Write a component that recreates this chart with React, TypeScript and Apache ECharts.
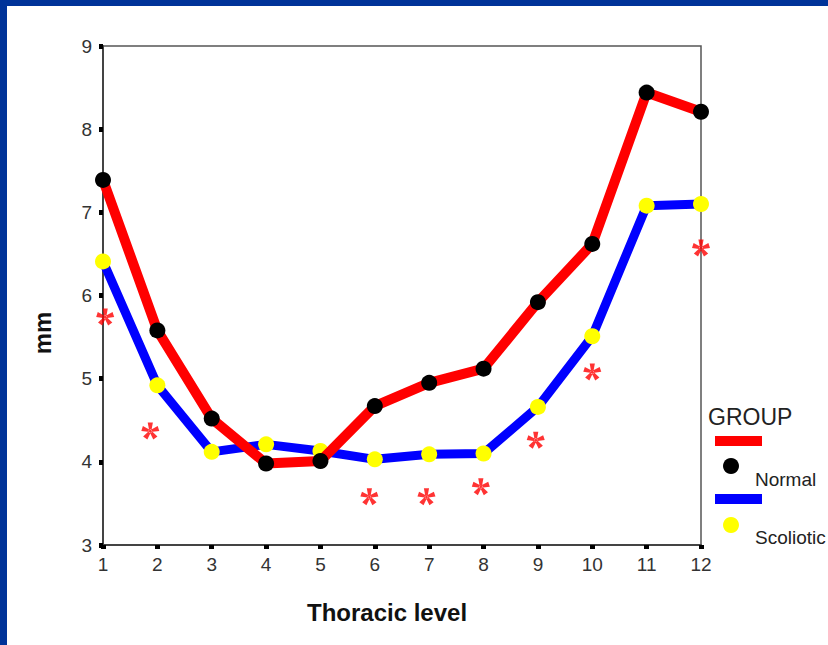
import React, { useEffect, useRef } from "react";
import * as echarts from "echarts";

const levels = [1, 2, 3, 4, 5, 6, 7, 8, 9, 10, 11, 12];
const normalValues = [7.39, 5.58, 4.52, 3.98, 4.01, 4.67, 4.95, 5.12, 5.92, 6.62, 8.44, 8.21];
const scolioticValues = [6.41, 4.92, 4.12, 4.21, 4.13, 4.03, 4.09, 4.1, 4.66, 5.51, 7.08, 7.1];
const starLevels = [1.04, 1.87, 5.9, 6.95, 7.95, 8.96, 10, 12];
const starValues = [5.74, 4.37, 3.58, 3.58, 3.7, 4.26, 5.08, 6.57];
const yTicks = [3, 4, 5, 6, 7, 8, 9];

function asteriskPath(): string {
  const L = 10, w0 = 1.2, w1 = 3.0, c = 12;
  const f = (v: number) => (v + c).toFixed(3);
  let d = "";
  for (let k = 0; k < 5; k++) {
    const a = (k * 72 * Math.PI) / 180;
    const dx = Math.sin(a), dy = -Math.cos(a);
    const nx = Math.cos(a), ny = Math.sin(a);
    const pts = [
      [w0 * nx, w0 * ny],
      [L * dx + w1 * nx, L * dy + w1 * ny],
      [L * dx - w1 * nx, L * dy - w1 * ny],
      [-w0 * nx, -w0 * ny],
    ];
    d += "M" + pts.map((p) => f(p[0]) + " " + f(p[1])).join(" L") + " Z ";
  }
  const r = 2.4;
  const cp: string[] = [];
  for (let k = 0; k < 5; k++) {
    const a = ((k * 72 + 36) * Math.PI) / 180;
    cp.push(f(r * Math.sin(a)) + " " + f(-r * Math.cos(a)));
  }
  d += "M" + cp.join(" L") + " Z";
  return d;
}

export default function App() {
  const ref = useRef<HTMLDivElement>(null);
  useEffect(() => {
    if (!ref.current) return;
    const chart = echarts.init(ref.current, null, { renderer: "svg" });
    const font = "'Liberation Sans', Arial, sans-serif";
    const normalData = levels.map((l, i) => [l, normalValues[i]]);
    const scolioticData = levels.map((l, i) => [l, scolioticValues[i]]);
    const starData = starLevels.map((l, i) => [l, starValues[i]]);
    chart.setOption({
      animation: false,
      backgroundColor: "#ffffff",
      grid: {
        left: 103,
        top: 46,
        right: 127,
        bottom: 100,
        show: true,
        borderColor: "#555",
        borderWidth: 1.5,
        backgroundColor: "transparent",
      },
      xAxis: {
        type: "value",
        min: 1,
        max: 12,
        interval: 1,
        splitLine: { show: false },
        axisLine: { show: true, onZero: false, lineStyle: { color: "#444", width: 2 } },
        axisTick: { show: true, length: 4, lineStyle: { color: "#000", width: 5 } },
        axisLabel: { margin: 10, color: "#333", fontSize: 19, fontFamily: font },
      },
      yAxis: {
        type: "value",
        min: yTicks[0],
        max: yTicks[yTicks.length - 1],
        interval: 1,
        splitLine: { show: false },
        axisLine: { show: true, onZero: false, lineStyle: { color: "#444", width: 2 } },
        axisTick: { show: true, length: 4, lineStyle: { color: "#000", width: 5 } },
        axisLabel: { margin: 11, color: "#333", fontSize: 19, fontFamily: font },
      },
      series: [
        {
          name: "Scoliotic",
          type: "line",
          data: scolioticData,
          clip: false,
          lineStyle: { color: "#0000ff", width: 9 },
          symbol: "circle",
          symbolSize: 16,
          showAllSymbol: true,
          itemStyle: { color: "#ffff00", borderWidth: 0 },
          z: 3,
        },
        {
          name: "Normal",
          type: "line",
          data: normalData,
          clip: false,
          lineStyle: { color: "#ff0000", width: 10 },
          symbol: "circle",
          symbolSize: 16,
          showAllSymbol: true,
          itemStyle: { color: "#000000", borderWidth: 0 },
          z: 4,
        },
        {
          name: "Significance",
          type: "scatter",
          data: starData,
          clip: false,
          symbol: "path://" + asteriskPath(),
          symbolSize: [18, 17],
          itemStyle: { color: "#ff0000" },
          z: 2,
        },
      ],
      graphic: [
        { type: "rect", shape: { x: 0, y: 0, width: 7, height: 645 }, style: { fill: "#003399" }, z: 100 },
        { type: "rect", shape: { x: 0, y: 0, width: 828, height: 6 }, style: { fill: "#003399" }, z: 100 },
        {
          type: "text",
          x: 387,
          y: 612,
          style: {
            text: "Thoracic level",
            fontSize: 24,
            fontWeight: "bold",
            fontFamily: font,
            fill: "#111",
            align: "center",
            verticalAlign: "middle",
          },
        },
        {
          type: "text",
          x: 42,
          y: 333,
          rotation: Math.PI / 2,
          style: {
            text: "mm",
            fontSize: 24,
            fontWeight: "bold",
            fontFamily: font,
            fill: "#111",
            align: "center",
            verticalAlign: "middle",
          },
        },
        {
          type: "text",
          x: 708,
          y: 417,
          style: {
            text: "GROUP",
            fontSize: 23,
            fontFamily: font,
            fill: "#222",
            align: "left",
            verticalAlign: "middle",
          },
        },
        { type: "rect", shape: { x: 715, y: 436, width: 47, height: 10 }, style: { fill: "#ff0000" } },
        { type: "circle", shape: { cx: 731, cy: 466, r: 8 }, style: { fill: "#000000" } },
        {
          type: "text",
          x: 755,
          y: 479,
          style: { text: "Normal", fontSize: 19, fontFamily: font, fill: "#222", align: "left", verticalAlign: "middle" },
        },
        { type: "rect", shape: { x: 715, y: 494, width: 47, height: 10 }, style: { fill: "#0000ff" } },
        { type: "circle", shape: { cx: 731, cy: 525, r: 8 }, style: { fill: "#ffff00" } },
        {
          type: "text",
          x: 755,
          y: 537,
          style: { text: "Scoliotic", fontSize: 19, fontFamily: font, fill: "#222", align: "left", verticalAlign: "middle" },
        },
      ],
    });
    return () => chart.dispose();
  }, []);
  return (
    <div
      ref={ref}
      style={{ position: "fixed", left: 0, top: 0, width: 828, height: 645, background: "#fff" }}
    />
  );
}
